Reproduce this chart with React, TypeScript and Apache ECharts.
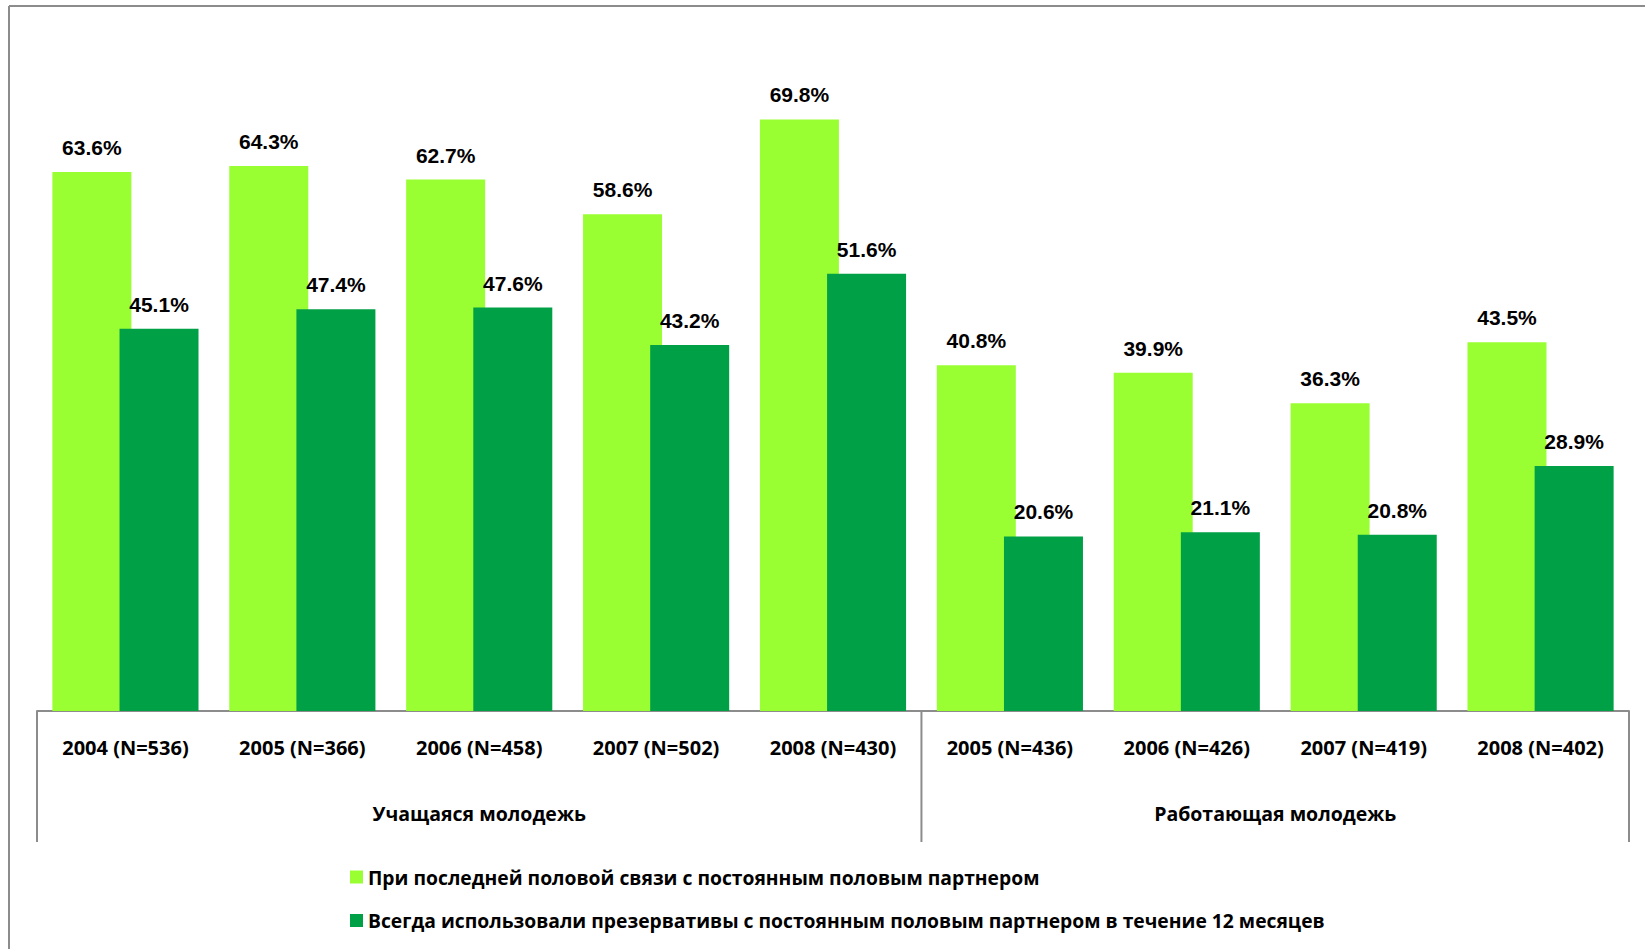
import React, { useEffect, useRef } from "react";
import * as echarts from "echarts";

const categories = [
  "2004 (N=536)",
  "2005 (N=366)",
  "2006 (N=458)",
  "2007 (N=502)",
  "2008 (N=430)",
  "2005 (N=436)",
  "2006 (N=426)",
  "2007 (N=419)",
  "2008 (N=402)",
];
const seriesNames = [
  "При последней половой связи с постоянным половым партнером",
  "Всегда использовали презервативы с постоянным половым партнером в течение 12 месяцев",
];
const lastContact = [63.6, 64.3, 62.7, 58.6, 69.8, 40.8, 39.9, 36.3, 43.5];
const alwaysUsed = [45.1, 47.4, 47.6, 43.2, 51.6, 20.6, 21.1, 20.8, 28.9];
const groupNames = ["Учащаяся молодежь", "Работающая молодежь"];
const groupSizes = [5, 4];

const W = 1645;
const H = 949;
const GRID_LEFT = 37;
const GRID_RIGHT = 16;
const GRID_BOTTOM = 238;
const GRID_TOP = 33;
const AXIS_Y = H - GRID_BOTTOM;
const SEP_BOTTOM = 842;
const LINE_COLOR = "#8c8c8c";
const FONT = "'Open Sans', 'Noto Sans', sans-serif";
const NARROW = "'Liberation Sans Narrow', 'Arial Narrow', 'Liberation Sans', sans-serif";

export default function App() {
  const ref = useRef<HTMLDivElement>(null);
  useEffect(() => {
    if (!ref.current) return;
    const chart = echarts.init(ref.current, undefined, { renderer: "svg" });
    const plotW = W - GRID_LEFT - GRID_RIGHT;
    const catW = plotW / categories.length;

    const graphics: any[] = [];
    // outer frame (top and left edges)
    graphics.push({
      type: "line",
      shape: { x1: 9, y1: 6, x2: W + 10, y2: 6 },
      style: { stroke: LINE_COLOR, lineWidth: 2 },
    });
    graphics.push({
      type: "line",
      shape: { x1: 9, y1: 6, x2: 9, y2: H + 10 },
      style: { stroke: LINE_COLOR, lineWidth: 2 },
    });
    // group separators and group labels
    let start = 0;
    const bounds = [0];
    groupSizes.forEach((n, gi) => {
      const x0 = GRID_LEFT + start * catW;
      const x1 = GRID_LEFT + (start + n) * catW;
      graphics.push({
        type: "text",
        x: (x0 + x1) / 2,
        y: 813,
        style: {
          text: groupNames[gi],
          fill: "#000",
          font: `bold 19.5px ${FONT}`,
          textAlign: "center",
          textVerticalAlign: "middle",
        },
      });
      start += n;
      bounds.push(start);
    });
    bounds.forEach((b) => {
      const x = GRID_LEFT + b * catW;
      graphics.push({
        type: "line",
        shape: { x1: x, y1: AXIS_Y, x2: x, y2: SEP_BOTTOM },
        style: { stroke: LINE_COLOR, lineWidth: 2 },
      });
    });

    const labelStyle = {
      show: true,
      position: "top" as const,
      distance: 14,
      formatter: "{c}%",
      color: "#000",
      fontSize: 21,
      fontWeight: "bold" as const,
      fontFamily: NARROW,
    };

    chart.setOption({
      animation: false,
      backgroundColor: "#fff",
      grid: { left: GRID_LEFT, right: GRID_RIGHT, top: GRID_TOP, bottom: GRID_BOTTOM },
      legend: {
        orient: "vertical",
        left: 350,
        top: 866,
        padding: 0,
        itemWidth: 13,
        itemHeight: 13,
        itemGap: 21.5,
        icon: "rect",
        textStyle: {
          fontSize: 19.3,
          fontWeight: "bold",
          fontFamily: FONT,
          color: "#000",
          lineHeight: 22,
        },
        data: seriesNames,
      },
      xAxis: {
        type: "category",
        data: categories,
        axisLine: { show: true, lineStyle: { color: LINE_COLOR, width: 2 } },
        axisTick: { show: false },
        axisLabel: {
          interval: 0,
          margin: 26,
          color: "#000",
          fontSize: 20,
          fontWeight: "bold",
          fontFamily: FONT,
          lineHeight: 20,
        },
      },
      yAxis: {
        type: "value",
        min: 0,
        max: 80,
        show: false,
        splitLine: { show: false },
      },
      series: [
        {
          name: seriesNames[0],
          type: "bar",
          data: lastContact,
          barWidth: 79,
          barGap: "-15%",
          itemStyle: { color: "#99FF33" },
          label: labelStyle,
        },
        {
          name: seriesNames[1],
          type: "bar",
          data: alwaysUsed,
          barWidth: 79,
          itemStyle: { color: "#00A046" },
          label: labelStyle,
        },
      ],
      graphic: graphics,
    });
    return () => chart.dispose();
  }, []);
  return (
    <div
      ref={ref}
      style={{ position: "absolute", left: 0, top: 0, width: W, height: H }}
    />
  );
}
